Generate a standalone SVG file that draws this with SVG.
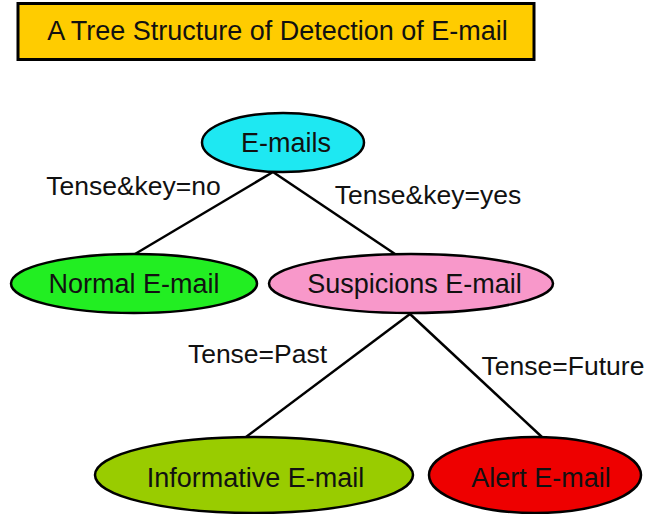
<svg xmlns="http://www.w3.org/2000/svg" width="646" height="514" viewBox="0 0 646 514">
<style>
text{font-family:"Liberation Sans",Arial,Helvetica,sans-serif;fill:#111;text-anchor:middle}
.node ellipse{stroke:#000;stroke-width:2.5}
.node text{font-size:27px}
.lbl{font-size:26.5px}
.edge{stroke:#000;stroke-width:2.5;fill:none}
</style>
<rect width="646" height="514" fill="#fff"/>
<g id="title">
<rect x="18" y="3.5" width="516" height="56" fill="#FFCC00" stroke="#000" stroke-width="3"/>
<text x="277.5" y="40" style="font-size:27px">A Tree Structure of Detection of E-mail</text>
</g>
<g id="connectors">
<line class="edge" x1="273" y1="172" x2="135" y2="254"/>
<line class="edge" x1="273" y1="172" x2="395" y2="254"/>
<line class="edge" x1="410" y1="314" x2="246" y2="437"/>
<line class="edge" x1="410" y1="314" x2="543" y2="438"/>
<text class="lbl" x="133.5" y="195">Tense&amp;key=no</text>
<text class="lbl" x="428" y="204">Tense&amp;key=yes</text>
<text class="lbl" x="257.5" y="363">Tense=Past</text>
<text class="lbl" x="563" y="375">Tense=Future</text>
</g>
<g id="n-emails" class="node">
<ellipse cx="283" cy="142.5" rx="81" ry="29.5" fill="#1EE8F2"/>
<text x="286" y="152">E-mails</text>
</g>
<g id="n-normal" class="node">
<ellipse cx="134" cy="283.5" rx="123" ry="29.5" fill="#22EE22"/>
<text x="134" y="293">Normal E-mail</text>
</g>
<g id="n-suspicions" class="node">
<ellipse cx="411" cy="283.5" rx="142" ry="29.5" fill="#F898CA"/>
<text x="414.5" y="293">Suspicions E-mail</text>
</g>
<g id="n-informative" class="node">
<ellipse cx="254" cy="475" rx="159" ry="38" fill="#99CC00"/>
<text x="255.5" y="487">Informative E-mail</text>
</g>
<g id="n-alert" class="node">
<ellipse cx="535" cy="475" rx="106" ry="38" fill="#EE0000"/>
<text x="541" y="487">Alert E-mail</text>
</g>
</svg>
